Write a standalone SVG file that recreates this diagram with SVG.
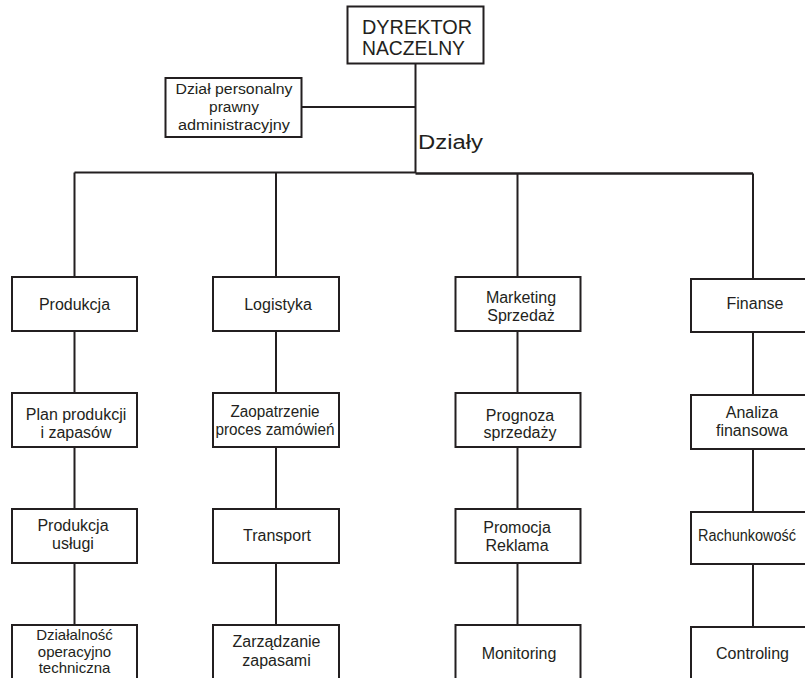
<svg xmlns="http://www.w3.org/2000/svg" width="805" height="678" viewBox="0 0 805 678">
<style>
.box{fill:#fff;stroke:#231f20;stroke-width:2}
.ln{fill:none;stroke:#231f20;stroke-width:2}
text{font-family:"Liberation Sans",Arial,sans-serif;font-size:16px;fill:#231f20;text-anchor:middle}
.s15{font-size:15px}
</style>
<rect width="805" height="678" fill="#fff"/>
<g id="connectors">
<path class="ln" d="M415.5 64V173.5M302 107H415.5M74.5 172.5H415.5"/>
<path class="ln" style="stroke-width:2.6" d="M415.5 173.5H753"/>
<path class="ln" d="M74.5 172.5V277M276 172.5V277M517.5 173.5V277M753 173.5V279"/>
<path class="ln" d="M74.5 331V393M74.5 447V509M74.5 563V625"/>
<path class="ln" d="M276 331V393M276 447V509M276 563V625"/>
<path class="ln" d="M517.5 331V393M517.5 447V509M517.5 563V625"/>
<path class="ln" d="M753 332V395M753 449V512M753 564V627"/>
</g>
<g id="dyrektor">
<rect class="box" x="347.5" y="6.5" width="136" height="57"/>
<text x="362" y="34" style="font-size:19.5px;text-anchor:start" textLength="110" lengthAdjust="spacingAndGlyphs">DYREKTOR</text>
<text x="362" y="55" style="font-size:19.5px;text-anchor:start" textLength="103" lengthAdjust="spacingAndGlyphs">NACZELNY</text>
</g>
<g id="dzial-personalny">
<rect class="box" x="165.5" y="78" width="136" height="59"/>
<text x="234" y="94" style="font-size:15.5px" textLength="117" lengthAdjust="spacingAndGlyphs">Dział personalny</text>
<text x="234" y="112" style="font-size:15.5px">prawny</text>
<text x="234" y="130" style="font-size:15.5px" textLength="112" lengthAdjust="spacingAndGlyphs">administracyjny</text>
</g>
<g id="dzialy-label">
<text x="418" y="149" style="font-size:20px;text-anchor:start" textLength="65" lengthAdjust="spacingAndGlyphs">Działy</text>
</g>
<g id="produkcja">
<rect class="box" x="12" y="277" width="125" height="54"/>
<text x="74.5" y="310">Produkcja</text>
</g>
<g id="logistyka">
<rect class="box" x="213" y="277" width="126" height="54"/>
<text x="278" y="310">Logistyka</text>
</g>
<g id="marketing">
<rect class="box" x="455.5" y="277" width="125" height="54"/>
<text x="521" y="303">Marketing</text>
<text x="521" y="321">Sprzedaż</text>
</g>
<g id="finanse">
<rect class="box" x="691" y="279" width="130" height="53"/>
<text x="755" y="309">Finanse</text>
</g>
<g id="plan-produkcji">
<rect class="box" x="12" y="393" width="125" height="54"/>
<text x="76" y="420">Plan produkcji</text>
<text x="76" y="438">i zapasów</text>
</g>
<g id="zaopatrzenie">
<rect class="box" x="213" y="393" width="126" height="54"/>
<text x="275" y="417" textLength="89" lengthAdjust="spacingAndGlyphs">Zaopatrzenie</text>
<text x="275" y="435" textLength="119" lengthAdjust="spacingAndGlyphs">proces zamówień</text>
</g>
<g id="prognoza">
<rect class="box" x="455.5" y="393" width="125" height="54"/>
<text x="520" y="421">Prognoza</text>
<text x="520" y="438">sprzedaży</text>
</g>
<g id="analiza">
<rect class="box" x="691" y="395" width="130" height="54"/>
<text x="752" y="418">Analiza</text>
<text x="752" y="436">finansowa</text>
</g>
<g id="produkcja-uslugi">
<rect class="box" x="12" y="509" width="125" height="54"/>
<text x="73" y="531">Produkcja</text>
<text x="73" y="549">usługi</text>
</g>
<g id="transport">
<rect class="box" x="213" y="509" width="126" height="54"/>
<text x="277" y="541">Transport</text>
</g>
<g id="promocja">
<rect class="box" x="455.5" y="509" width="125" height="54"/>
<text x="517" y="533">Promocja</text>
<text x="517" y="551">Reklama</text>
</g>
<g id="rachunkowosc">
<rect class="box" x="691" y="512" width="130" height="52"/>
<text x="698" y="541" style="text-anchor:start" textLength="98" lengthAdjust="spacingAndGlyphs">Rachunkowość</text>
</g>
<g id="dzialalnosc">
<rect class="box" x="12" y="625" width="125" height="70"/>
<text class="s15" x="74.5" y="640">Działalność</text>
<text class="s15" x="74.5" y="657">operacyjno</text>
<text class="s15" x="74.5" y="673">techniczna</text>
</g>
<g id="zarzadzanie">
<rect class="box" x="213" y="625" width="126" height="70"/>
<text x="276.5" y="647">Zarządzanie</text>
<text x="276.5" y="666">zapasami</text>
</g>
<g id="monitoring">
<rect class="box" x="455.5" y="625" width="125" height="70"/>
<text x="519" y="659">Monitoring</text>
</g>
<g id="controling">
<rect class="box" x="691" y="627" width="130" height="70"/>
<text x="752.5" y="659">Controling</text>
</g>
</svg>
